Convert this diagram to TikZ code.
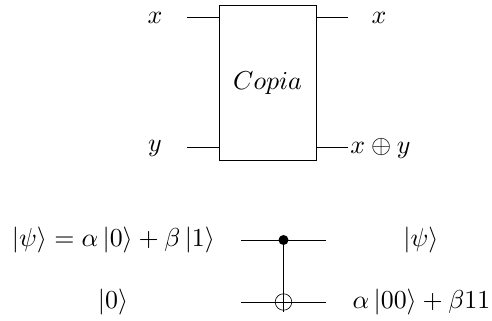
\documentclass[tikz,border=0pt]{standalone}
\usepackage{graphicx}
\newcommand{\biglab}[1]{\scalebox{2.6}{#1}}
\begin{document}
\begin{tikzpicture}[x=1bp,y=-1bp,
 wire/.style={line width=0.65pt},
 lab/.style={inner sep=0pt}]
\useasboundingbox (0,0) rectangle (492,320);
\node[draw,line width=0.65pt,minimum width=97.5bp,minimum height=155bp,inner sep=0pt] (box) at (268,82.5) {};
\node[lab] (copia) at (267.5,83) {\biglab{$Copia$}};
\coordinate (a1) at (187,17.5); \coordinate (a2) at (219,17.5);
\coordinate (b1) at (187,147.5); \coordinate (b2) at (219,147.5);
\coordinate (c1) at (317,17.5); \coordinate (c2) at (348,17.5);
\coordinate (d1) at (317,147.5); \coordinate (d2) at (348,147.5);
\draw[wire] (a1)--(a2); \draw[wire] (b1)--(b2); \draw[wire] (c1)--(c2); \draw[wire] (d1)--(d2);
\node[lab] (x1) at (155,18) {\biglab{$x$}};
\node[lab] (y1) at (155,148) {\biglab{$y$}};
\node[lab] (x2) at (379,18) {\biglab{$x$}};
\node[lab] (xy) at (380.5,148) {\biglab{$x\oplus y$}};
\node[lab] (psi) at (113.5,240) {\biglab{$|\psi\rangle=\alpha\,|0\rangle+\beta\,|1\rangle$}};
\node[lab] (zero) at (113,302) {\biglab{$|0\rangle$}};
\node[lab] (psi2) at (421,240) {\biglab{$|\psi\rangle$}};
\node[lab] (sup) at (421.5,302) {\biglab{$\alpha\,|00\rangle+\beta 11$}};
\coordinate (l1) at (241,240); \coordinate (r1) at (326,240);
\coordinate (l2) at (241,302); \coordinate (r2) at (326,302);
\node[circle,fill=black,inner sep=0pt,minimum size=10bp] (ctl) at (283.5,240) {};
\node[circle,draw,line width=0.65pt,inner sep=0pt,minimum size=16.5bp] (tg) at (283.5,302) {};
\draw[wire] (l1)--(r1); \draw[wire] (l2)--(r2);
\draw[wire] (ctl.center)--([yshift=-1.3bp]tg.south);
\end{tikzpicture}
\end{document}
